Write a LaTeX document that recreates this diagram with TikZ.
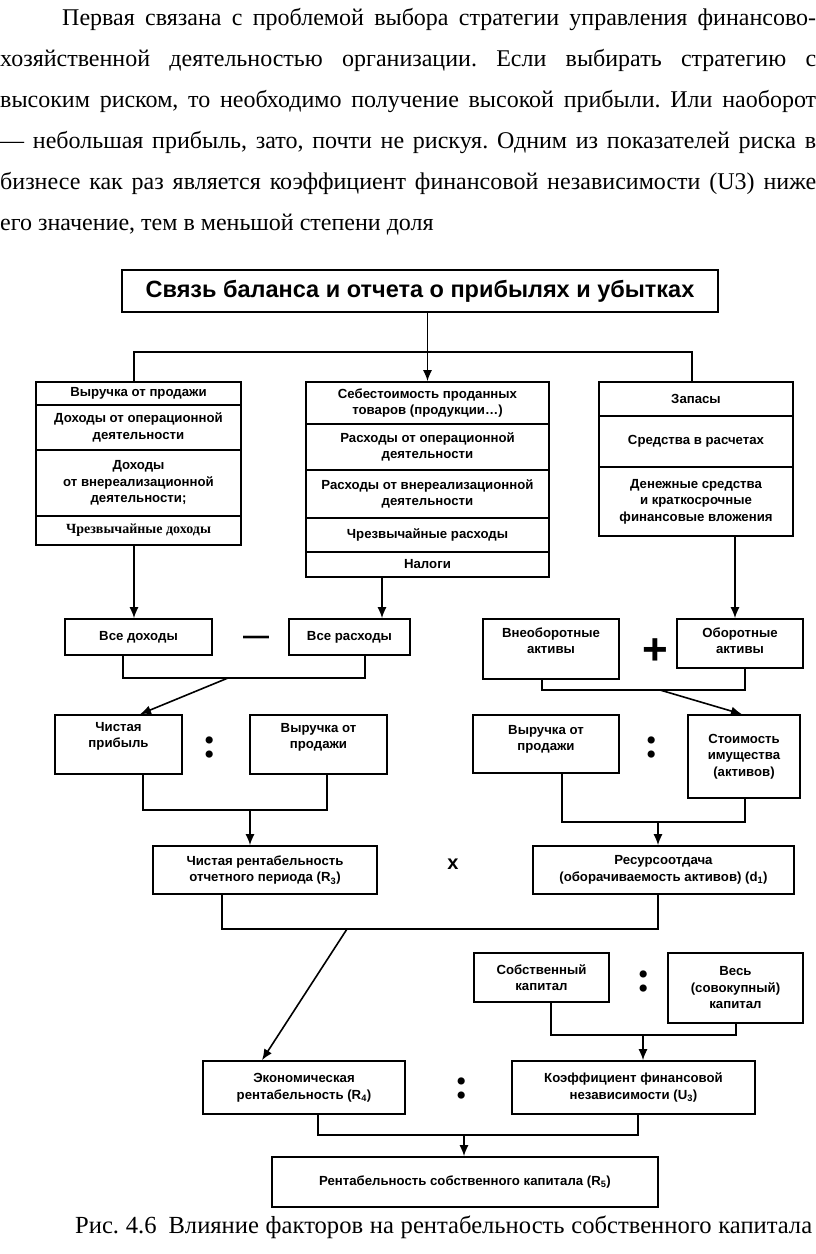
\documentclass[tikz,border=0pt]{standalone}
\usepackage{fontspec}
\setmainfont{Liberation Serif}
\newfontfamily\diag{Liberation Sans}
\usetikzlibrary{arrows.meta}
\frenchspacing
\newcommand\mkbox[6][]{\node[bx,minimum width=#4pt-#2pt,minimum height=#5pt-#3pt,#1] (#6) at ({(#2+#4)/2},{(#3+#5)/2})}
\begin{document}
\begin{tikzpicture}[x=1pt,y=-1pt,
  bx/.style={draw,line width=1.6pt,inner sep=0pt,align=center,font=\diag\bfseries\fontsize{13.2}{16.5}\selectfont},
  txt/.style={inner sep=0pt,align=center,font=\diag\bfseries\fontsize{13.2}{16.5}\selectfont},
  conn/.style={line width=1.6pt},
  arr/.style={line width=1.6pt,-{Latex[length=11pt,width=9pt]}},
  op/.style={inner sep=0pt,font=\diag\bfseries\fontsize{44}{44}\selectfont},
  colon/.style={inner sep=0pt,font=\bfseries\fontsize{44}{44}\selectfont},
  para/.style={anchor=base west,inner sep=0pt,font=\frenchspacing\fontsize{24}{24}\selectfont}]
\useasboundingbox[fill=white] (0,0) rectangle (816,1254);

% paragraph
\node[para] (p1) at (62,25) {\makebox[754pt][s]{Первая связана с проблемой выбора стратегии управления финансово-}};
\node[para] (p2) at (0,66) {\makebox[816pt][s]{хозяйственной деятельностью организации. Если выбирать стратегию с}};
\node[para] (p3) at (0,107) {\makebox[816pt][s]{высоким риском, то необходимо получение высокой прибыли. Или наоборот}};
\node[para] (p4) at (0,148) {\makebox[816pt][s]{— небольшая прибыль, зато, почти не рискуя. Одним из показателей риска в}};
\node[para] (p5) at (0,189) {\makebox[816pt][s]{бизнесе как раз является коэффициент финансовой независимости (U3) ниже}};
\node[para] (p6) at (0,230) {его значение, тем в меньшой степени доля};

% title
\mkbox[font=\diag\bfseries\fontsize{23.5}{26}\selectfont]{122}{270}{718}{312}{title} {Связь баланса и отчета о прибылях и убытках};

% left column
\mkbox{36}{382}{241}{405}{lc1} {Выручка от продажи};
\mkbox{36}{405}{241}{450}{lc2} {Доходы от операционной\\деятельности};
\mkbox{36}{450}{241}{516}{lc3} {Доходы\\от внереализационной\\деятельности;};
\mkbox[font=\bfseries\fontsize{14}{16}\selectfont]{36}{516}{241}{545}{lc4} {Чрезвычайные доходы};

% middle column
\mkbox{306}{382}{549}{424}{mc1} {Себестоимость проданных\\товаров (продукции…)};
\mkbox{306}{424}{549}{470}{mc2} {Расходы от операционной\\деятельности};
\mkbox{306}{470}{549}{518}{mc3} {Расходы от внереализационной\\деятельности};
\mkbox{306}{518}{549}{552}{mc4} {Чрезвычайные расходы};
\mkbox{306}{552}{549}{577}{mc5} {Налоги};

% right column
\mkbox{599}{382}{793}{416}{rc1} {Запасы};
\mkbox{599}{416}{793}{467}{rc2} {Средства в расчетах};
\mkbox{599}{467}{793}{536}{rc3} {Денежные средства\\и краткосрочные\\финансовые вложения};

% row 2
\mkbox{65}{619}{212}{655}{inc} {Все доходы};
\mkbox{289}{619}{410}{655}{exp} {Все расходы};
\node[op,font=\diag\bfseries\fontsize{26}{26}\selectfont] (minus) at (256,640) {—};
\mkbox{483}{619}{619}{679}{noncur} {};
\node[txt,anchor=north] (noncurt) at ([yshift=-9pt]noncur.north) {Внеоборотные\\активы};
\node[op] (plus) at (655,652) {+};
\mkbox{677}{619}{803}{668}{cur} {};
\node[txt,anchor=north] (curt) at ([yshift=-9pt]cur.north) {Оборотные\\активы};

% row 3
\mkbox{55}{715}{182}{774}{np} {};
\node[txt,anchor=north] (npt) at ([yshift=-8pt]np.north) {Чистая\\прибыль};
\node[colon] (col1) at (210,747) {:};
\mkbox{250}{715}{387}{774}{rev1} {};
\node[txt,anchor=north] (rev1t) at ([yshift=-9pt]rev1.north) {Выручка от\\продажи};
\mkbox{473}{715}{619}{773}{rev2} {};
\node[txt,anchor=north] (rev2t) at ([yshift=-11pt]rev2.north) {Выручка от\\продажи};
\node[colon] (col2) at (652,747) {:};
\mkbox{688}{715}{800}{798}{assets} {Стоимость\\имущества\\(активов)};

% row 4
\mkbox{153}{846}{377}{894}{r3} {Чистая рентабельность\\отчетного периода (R\textsubscript{3})};
\node[op,font=\diag\bfseries\fontsize{20}{20}\selectfont] (times) at (453,864) {x};
\mkbox{533}{846}{794}{894}{d1} {Ресурсоотдача\\(оборачиваемость активов) (d\textsubscript{1})};

% row 5
\mkbox{474}{953}{609}{1002}{own} {Собственный\\капитал};
\node[colon] (col3) at (644,981) {:};
\mkbox{668}{953}{803}{1023}{total} {Весь\\(совокупный)\\капитал};

% row 6
\mkbox{203}{1061}{405}{1114}{econ} {Экономическая\\рентабельность (R\textsubscript{4})};
\node[colon] (col4) at (462,1088) {:};
\mkbox{512}{1061}{755}{1114}{coef} {Коэффициент финансовой\\независимости (U\textsubscript{3})};

% row 7
\mkbox{272}{1157}{658}{1207}{rent} {Рентабельность собственного капитала (R\textsubscript{5})};

% caption
\node[para,font=\frenchspacing\fontsize{24.6}{24.6}\selectfont] (cap) at (75,1233) {\makebox[737pt][s]{Рис. 4.6\hspace{12pt}Влияние факторов на рентабельность собственного капитала}};

% helper coordinates
\coordinate (xL) at (134,0);
\coordinate (xR1) at (692,0);
\coordinate (hl) at (427,352);
\coordinate (xM) at (382,0);
\coordinate (xR2) at (735,0);
\coordinate (xa) at (123,0);
\coordinate (xb) at (365,0);
\coordinate (j1) at (228,678);
\coordinate (x140) at (140,0);
\coordinate (xc) at (542,0);
\coordinate (xd) at (745,0);
\coordinate (j2) at (660,690);
\coordinate (x742) at (742,0);
\coordinate (xe) at (143,0);
\coordinate (xf) at (327,0);
\coordinate (j3) at (250,810);
\coordinate (xg) at (562,0);
\coordinate (j4) at (658,822);
\coordinate (xh) at (222,0);
\coordinate (xi) at (658,0);
\coordinate (j5) at (347,929);
\coordinate (x262) at (262,0);
\coordinate (xj) at (551,0);
\coordinate (xk) at (736,0);
\coordinate (j6) at (643,1035);
\coordinate (xl) at (318,0);
\coordinate (xm) at (638,0);
\coordinate (j7) at (464,1135);

% connectors
\draw[arr] (title.south -| mc1.north) -- (mc1.north);
\draw[conn] (lc1.north -| xL) -- (hl -| xL) -- (hl -| xR1) -- (rc1.north -| xR1);
\draw[arr] (lc4.south -| xL) -- (inc.north -| xL);
\draw[arr] (mc5.south -| xM) -- (exp.north -| xM);
\draw[arr] (rc3.south -| xR2) -- (cur.north -| xR2);

\draw[conn] (inc.south -| xa) |- (j1) -| (exp.south -| xb);
\draw[arr] (j1) -- (np.north -| x140);
\draw[conn] (noncur.south -| xc) |- (j2) -| (cur.south -| xd);
\draw[arr] (j2) -- (assets.north -| x742);

\draw[conn] (np.south -| xe) |- (j3) -| (rev1.south -| xf);
\draw[arr] (j3) -- (r3.north -| j3);
\draw[conn] (rev2.south -| xg) |- (j4) -| (assets.south -| xd);
\draw[arr] (j4) -- (d1.north -| j4);

\draw[conn] (r3.south -| xh) |- (j5) -| (d1.south -| xi);
\draw[arr] (j5) -- (econ.north -| x262);

\draw[conn] (own.south -| xj) |- (j6) -| (total.south -| xk);
\draw[arr] (j6) -- (coef.north -| j6);

\draw[conn] (econ.south -| xl) |- (j7) -| (coef.south -| xm);
\draw[arr] (j7) -- (rent.north -| j7);
\end{tikzpicture}
\end{document}
